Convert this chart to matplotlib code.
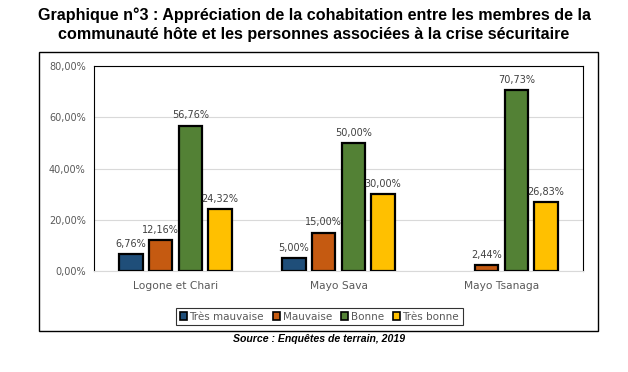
import matplotlib
matplotlib.use("Agg")
import matplotlib.pyplot as plt
from matplotlib.patches import Rectangle
import numpy as np

categories = ["Logone et Chari", "Mayo Sava", "Mayo Tsanaga"]
series_names = ["Très mauvaise", "Mauvaise", "Bonne", "Très bonne"]
tres_mauvaise = [6.76, 5.00, None]
mauvaise = [12.16, 15.00, 2.44]
bonne = [56.76, 50.00, 70.73]
tres_bonne = [24.32, 30.00, 26.83]
colors = ["#1F4E79", "#C55A11", "#538135", "#FFC000"]
yticks = [0, 20, 40, 60, 80]

series = [tres_mauvaise, mauvaise, bonne, tres_bonne]

W, H = 628, 372
fig = plt.figure(figsize=(W / 100, H / 100), dpi=100)

def fx(px):
    return px / W

def fy(py):
    return 1 - py / H

# outer chart frame
fig.patches.append(Rectangle((fx(39), fy(331)), fx(598) - fx(39), fy(52) - fy(331),
                             transform=fig.transFigure, fill=False, ec="black", lw=1.0))

ax = fig.add_axes([fx(94), fy(271), fx(583) - fx(94), fy(66) - fy(271)])

x = np.arange(len(categories))
step = 0.182
width = 0.142
for i, (vals, name, c) in enumerate(zip(series, series_names, colors)):
    offs = (i - 1.5) * step
    xs = [xi + offs for xi, v in zip(x, vals) if v is not None]
    vs = [v for v in vals if v is not None]
    ax.bar(xs, vs, width=width, color=c, edgecolor="black", linewidth=1.6, label=name, zorder=3)
    for xx, v in zip(xs, vs):
        ax.text(xx, v + 2.0, f"{v:.2f}".replace(".", ",") + "%", ha="center", va="bottom",
                fontsize=7, color="#404040", family="DejaVu Sans", zorder=4)

ax.set_xlim(-0.5, 2.5)
ax.set_ylim(0, 80)
ax.set_yticks(yticks)
ax.set_yticklabels([f"{t:.2f}".replace(".", ",") + "%" for t in yticks], fontsize=7,
                   color="#595959", family="DejaVu Sans")
ax.set_xticks(x)
ax.set_xticklabels(categories, fontsize=7.7, color="#595959", family="DejaVu Sans")
ax.tick_params(axis="both", length=0, pad=6)
ax.tick_params(axis="x", pad=7)
ax.yaxis.grid(True, color="#D9D9D9", lw=0.8, zorder=0)
ax.set_axisbelow(True)
for s in ["left", "top", "right"]:
    ax.spines[s].set_color("black")
    ax.spines[s].set_linewidth(0.8)
ax.spines["bottom"].set_color("#D9D9D9")
ax.spines["bottom"].set_linewidth(0.8)

leg = ax.legend(loc="center", bbox_to_anchor=((fx(177) + fx(462)) / 2, fy(316.5)),
                bbox_transform=fig.transFigure, ncol=4, frameon=True, fancybox=False,
                handlelength=0.7, handleheight=0.7, handletextpad=0.2,
                columnspacing=0.9, borderpad=0.35, prop={"family": "DejaVu Sans", "size": 7.5})
leg.get_frame().set_edgecolor("black")
leg.get_frame().set_linewidth(0.8)
for t in leg.get_texts():
    t.set_color("#595959")
for h in leg.legend_handles:
    h.set_linewidth(1.2)

fig.text(0.5, fy(15), "Graphique n°3 : Appréciation de la cohabitation entre les membres de la",
         ha="center", va="center", fontsize=11.6, fontweight="bold", family="Liberation Sans")
fig.text(0.5, fy(34), "communauté hôte et les personnes associées à la crise sécuritaire",
         ha="center", va="center", fontsize=11.6, fontweight="bold", family="Liberation Sans")
fig.text(fx(319), fy(339), "Source : Enquêtes de terrain, 2019", ha="center", va="center",
         fontsize=7.6, fontweight="bold", style="italic", family="Liberation Sans")

fig.savefig("out.png", dpi=100)
